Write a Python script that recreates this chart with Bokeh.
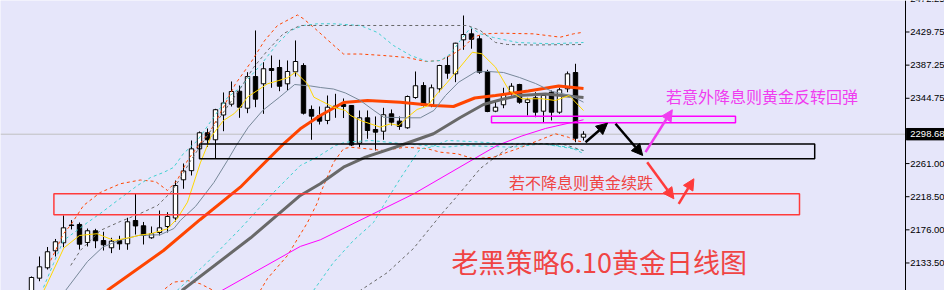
from bokeh.plotting import figure
from bokeh.models import Range1d, Span, Arrow, NormalHead
from bokeh.core.properties import value
from bokeh.embed import file_html
from bokeh.resources import INLINE

# ---- candles (daily gold) ----
opens = [2088.0, 2114.0, 2127.3, 2149.1, 2159.4, 2182.2, 2182.9, 2159.8, 2174.8, 2162.3,
         2153.0, 2162.3, 2158.1, 2188.0, 2181.2, 2165.8, 2172.6, 2180.3, 2191.2, 2240.2,
         2251.9, 2279.9, 2300.5, 2291.5, 2323.3, 2337.2, 2353.8, 2332.0, 2372.6, 2363.3,
         2382.9, 2384.2, 2363.3, 2378.7, 2386.8, 2330.4, 2322.3, 2316.3, 2332.9, 2336.8,
         2335.5, 2287.1, 2319.7, 2304.7, 2302.5, 2324.8, 2315.4, 2306.9, 2345.7, 2361.1,
         2335.9, 2356.9, 2386.8, 2376.1, 2419.7, 2427.4, 2421.0, 2379.1, 2328.2, 2336.4,
         2351.3, 2362.4, 2339.3, 2345.3, 2328.2, 2352.5, 2326.9, 2356.9, 2377.8, 2294.8]
highs = [2116.2, 2141.8, 2154.0, 2164.3, 2194.4, 2188.6, 2185.4, 2177.7, 2177.3, 2173.5,
         2165.8, 2168.4, 2191.5, 2222.6, 2186.1, 2180.3, 2200.8, 2198.6, 2239.3, 2261.1,
         2290.6, 2302.2, 2306.0, 2331.2, 2352.2, 2366.3, 2361.1, 2378.2, 2431.7, 2391.0,
         2399.6, 2394.1, 2393.2, 2418.9, 2389.7, 2335.5, 2334.2, 2348.3, 2350.5, 2344.5,
         2336.1, 2329.1, 2329.1, 2321.4, 2332.5, 2330.4, 2321.4, 2348.3, 2379.1, 2365.4,
         2362.4, 2387.7, 2398.3, 2415.9, 2450.9, 2434.2, 2425.3, 2381.3, 2341.9, 2358.2,
         2364.1, 2363.3, 2345.3, 2352.5, 2351.3, 2354.7, 2358.2, 2379.1, 2389.0, 2302.5]
lows = [2080.0, 2110.1, 2125.1, 2141.8, 2153.7, 2176.5, 2150.8, 2154.7, 2152.5, 2149.5,
        2146.1, 2150.4, 2150.4, 2170.0, 2157.2, 2164.5, 2168.8, 2172.6, 2186.7, 2228.7,
        2245.7, 2276.9, 2282.3, 2268.0, 2302.5, 2334.2, 2319.7, 2325.6, 2333.3, 2324.8,
        2358.2, 2353.8, 2354.7, 2372.6, 2323.9, 2291.5, 2311.1, 2311.5, 2319.7, 2319.4,
        2283.5, 2282.0, 2292.8, 2277.8, 2291.5, 2309.8, 2304.3, 2305.6, 2344.1, 2334.2,
        2333.3, 2352.5, 2369.7, 2365.4, 2406.9, 2408.3, 2376.1, 2326.9, 2326.9, 2332.0,
        2348.3, 2337.7, 2322.7, 2320.5, 2314.1, 2316.3, 2324.8, 2352.5, 2288.4, 2290.6]
closes = [2114.9, 2128.6, 2147.9, 2160.7, 2178.6, 2181.6, 2157.6, 2174.8, 2162.0, 2156.8,
          2161.5, 2158.1, 2186.3, 2181.0, 2168.8, 2170.9, 2178.6, 2193.1, 2232.9, 2251.5,
          2279.9, 2300.5, 2291.5, 2330.1, 2338.7, 2353.4, 2333.3, 2372.6, 2343.6, 2382.6,
          2380.4, 2360.2, 2379.1, 2391.9, 2325.6, 2321.8, 2315.4, 2333.3, 2334.8, 2334.2,
          2284.8, 2319.7, 2303.4, 2301.3, 2323.6, 2314.1, 2308.6, 2347.0, 2360.8, 2335.5,
          2358.2, 2386.8, 2376.9, 2415.4, 2426.5, 2420.4, 2378.2, 2327.8, 2333.3, 2349.6,
          2360.2, 2339.7, 2342.8, 2326.9, 2348.3, 2326.9, 2355.6, 2376.1, 2293.5, 2298.68]
bar_index = list(range(len(opens)))
last_price = 2298.68

# ---- moving averages (bar index, price) ----
ma5_x = [1.54, 1.75, 4.04, 6.0, 8.2, 10.3, 12.4, 13.6, 14.9, 17.0, 18.2, 19.5, 21.1, 22.4, 24.0,
         25.3, 26.1, 27.0, 29.5, 30.9, 32.0, 33.0, 34.5, 35.3, 36.1, 37.75, 39.25, 39.9, 41.1,
         43.6, 44.9, 45.9, 47.0, 48.2, 49.5, 50.7, 52.0, 53.4, 55.1, 56.3, 58.0, 59.7, 61.3,
         63.8, 65.5, 67.2, 69.0]
ma5_y = [2098.2, 2102.5, 2152.7, 2168.8, 2171.0, 2162.4, 2166.2, 2169.4, 2171.0, 2177.4, 2190.2,
         2211.5, 2261.8, 2294.8, 2316.3, 2324.8, 2333.3, 2346.4, 2363.3, 2367.5, 2371.0, 2378.2,
         2363.3, 2346.1, 2341.9, 2333.3, 2329.1, 2322.6, 2316.3, 2307.7, 2312.0, 2309.8, 2320.5,
         2330.4, 2334.8, 2350.5, 2365.4, 2382.6, 2403.8, 2401.8, 2384.6, 2354.7, 2344.1, 2344.1,
         2341.9, 2348.3, 2329.0]
ma10_x = [4.25, 7.0, 8.9, 11.1, 13.4, 16.1, 17.8, 18.6, 20.5, 22.8, 24.5, 25.6, 27.1, 28.9, 31.0,
          32.9, 34.9, 36.1, 37.75, 39.25, 41.1, 42.8, 44.0, 47.0, 48.6, 50.3, 51.75, 53.4, 55.5,
          57.1, 59.0, 61.0, 63.0, 65.1, 67.4, 69.0]
ma10_y = [2098.2, 2135.4, 2153.8, 2163.0, 2168.8, 2169.7, 2177.7, 2188.0, 2206.0, 2236.7, 2265.0,
          2284.2, 2307.7, 2329.1, 2346.1, 2362.4, 2360.5, 2358.6, 2356.6, 2351.5, 2341.9, 2329.1,
          2320.5, 2319.7, 2319.7, 2329.1, 2348.3, 2365.4, 2378.5, 2379.1, 2377.8, 2371.4, 2363.7,
          2353.4, 2348.3, 2339.7]
ma20_x = [9.46, 16.5, 21.1, 26.1, 31.3, 33.6, 36.1, 39.0, 42.0, 46.1, 50.25, 52.75, 55.4, 58.0,
          62.1, 65.9, 69.0]
ma20_y = [2098.2, 2149.5, 2189.3, 2230.7, 2284.2, 2305.6, 2322.6, 2339.3, 2341.9, 2339.7, 2335.5,
          2334.2, 2345.1, 2348.3, 2354.1, 2360.5, 2357.3]
ma60_x = [18.8, 27.4, 33.6, 36.1, 39.0, 41.75, 46.1, 50.25, 53.6, 56.5, 58.75, 60.9, 64.25, 69.0]
ma60_y = [2098.2, 2165.8, 2220.1, 2235.1, 2256.4, 2269.2, 2284.2, 2299.2, 2320.1, 2336.8, 2343.2,
          2348.3, 2350.2, 2345.7]
ma120_x = [23.8, 33.6, 36.1, 47.75, 58.2, 61.3, 64.25, 69.0]
ma120_y = [2098.2, 2154.7, 2163.2, 2222.0, 2284.2, 2296.4, 2306.0, 2317.2]

# ---- envelopes / bands (bar index, price) ----
band_red_up_x = [2.4, 4.0, 4.9, 6.5, 8.6, 11.1, 13.6, 15.5, 17.0, 18.2, 19.5, 20.7, 22.4, 24.0,
                 25.5, 27.5, 29.1, 30.75, 33.25, 34.0, 35.5, 37.1, 39.0, 41.1, 44.0, 47.0, 49.25,
                 51.1, 52.75, 54.0, 55.25, 56.5, 58.6, 62.75, 66.1, 67.75, 69.0]
band_red_up_y = [2136.7, 2171.0, 2182.2, 2207.2, 2223.9, 2235.1, 2239.9, 2238.0, 2226.5, 2239.3,
                 2264.9, 2282.0, 2303.4, 2333.3, 2363.3, 2391.9, 2418.2, 2438.1, 2451.6, 2446.7,
                 2433.6, 2418.8, 2401.5, 2401.5, 2399.6, 2397.0, 2391.9, 2393.2, 2401.8, 2410.3,
                 2423.1, 2427.4, 2428.2, 2427.4, 2423.1, 2427.4, 2429.5]
band_red_lo_x = [16.1, 17.75, 19.5, 21.1, 22.75, 25.75, 28.6, 29.5, 32.0, 34.5, 35.75, 36.1, 37.75,
                 39.0, 39.9, 44.0, 46.75, 49.5, 51.1, 53.25, 55.25, 57.75, 59.5, 60.75, 63.9,
                 65.5, 67.1, 68.0, 69.0]
band_red_lo_y = [2095.7, 2108.9, 2111.0, 2106.8, 2098.2, 2079.0, 2098.2, 2113.6, 2143.1, 2185.4,
                 2211.1, 2222.6, 2262.4, 2280.0, 2282.0, 2277.8, 2282.0, 2280.0, 2275.6, 2273.5,
                 2267.1, 2269.2, 2275.6, 2280.0, 2292.8, 2299.2, 2294.8, 2290.6, 2288.4]
band_cyan_up_x = [1.5, 2.75, 4.0, 7.0, 8.6, 10.75, 13.25, 14.9, 16.5, 17.75, 19.0, 20.75, 22.75,
                  24.5, 26.1, 28.6, 30.75, 32.4, 34.0, 35.75, 37.75, 41.1, 43.25, 45.25, 47.4,
                  49.5, 51.1, 52.4, 53.6, 54.9, 56.1, 57.75, 60.75, 64.9, 69.0]
band_cyan_up_y = [2102.1, 2132.9, 2162.3, 2185.4, 2197.0, 2213.7, 2232.9, 2243.2, 2249.6, 2256.0,
                  2273.9, 2290.6, 2320.1, 2345.7, 2358.6, 2386.8, 2415.0, 2431.7, 2438.1, 2440.3,
                  2440.3, 2438.1, 2429.1, 2412.4, 2399.6, 2391.9, 2393.2, 2401.8, 2418.9, 2435.5,
                  2427.4, 2422.7, 2416.3, 2414.6, 2416.3]
band_cyan_lo_x = [18.2, 22.0, 26.1, 30.3, 33.6, 35.7, 38.0, 39.25, 42.4, 46.1, 51.75, 53.9, 60.1,
                  63.9, 65.5, 67.4, 69.0]
band_cyan_lo_y = [2098.2, 2134.5, 2177.4, 2224.3, 2258.5, 2269.2, 2284.2, 2288.4, 2290.6, 2286.8,
                  2282.0, 2284.2, 2282.0, 2286.4, 2284.2, 2281.6, 2273.9]
band_cyan_lo2_x = [35.25, 37.75, 40.25, 42.75, 44.0, 46.1, 47.75, 48.6, 49.9, 52.0, 54.9, 58.6,
                   63.6, 69.0]
band_cyan_lo2_y = [2098.2, 2134.2, 2162.4, 2185.4, 2207.2, 2241.9, 2267.5, 2279.9, 2282.0, 2290.6,
                   2289.3, 2286.8, 2286.8, 2277.8]
band_gray_up_x = [4.9, 6.1, 8.6, 11.1, 13.6, 15.75, 17.4, 18.6, 19.9, 23.0, 26.1, 27.75, 29.5,
                  31.5, 33.6, 37.75, 44.0, 50.25, 54.5, 56.1, 58.0, 59.5, 62.75, 69.0]
band_gray_up_y = [2130.3, 2149.5, 2175.2, 2186.7, 2197.0, 2207.2, 2223.9, 2241.9, 2264.9, 2312.4,
                  2357.3, 2384.2, 2406.0, 2427.8, 2438.1, 2438.1, 2438.1, 2438.1, 2438.1, 2431.7,
                  2416.3, 2413.7, 2413.1, 2413.7]
band_gray_lo_x = [38.6, 41.1, 44.5, 47.75, 51.1, 53.6, 56.1, 58.25, 59.5, 61.1, 62.75, 66.1, 67.0,
                  68.25, 69.0]
band_gray_lo_y = [2079.0, 2098.2, 2121.3, 2152.1, 2194.4, 2223.9, 2254.7, 2271.4, 2280.3, 2286.8,
                  2286.8, 2286.4, 2284.2, 2280.0, 2277.8]

# ---- price scale ticks ----
tick_values = [2133.50, 2176.00, 2218.50, 2261.00, 2344.75, 2387.25, 2429.75, 2472.25]
tick_labels = [f"{t:.2f}" for t in tick_values]

# ---- drawn zones (bar index range, price range) ----
zone_black = (21.0, 97.9, 2267.1, 2286.1)
zone_magenta = (57.5, 88.0, 2313.3, 2321.8)
zone_red = (2.8, 96.0, 2195.3, 2222.2)

# ---- arrows (x0, y0, x1, y1) in bar index / price ----
arrows_black = [(69.25, 2288.4, 72.0, 2312.8), (73.0, 2312.0, 76.4, 2271.4)]
arrows_magenta = [(76.75, 2275.6, 80.1, 2330.0)]
arrows_red = [(76.96, 2262.8, 80.3, 2215.8), (80.9, 2209.4, 82.8, 2241.5)]

# ---- texts ----
note_up = "若意外降息则黄金反转回弹"
note_down = "若不降息则黄金续跌"
title_text = "老黑策略6.10黄金日线图"

# ---- layout constants (bar units) ----
X_START, X_END = -3.875, 114.125     # 8 px per bar over the 944 px window
SCALE_X = 109.25                      # bar position of the price-scale line
Y_START, Y_END = 2098.2, 2470.15

BG = "#E6E6FA"
p = figure(width=944, height=290, output_backend="svg", toolbar_location=None,
           x_range=Range1d(X_START, X_END), y_range=Range1d(Y_START, Y_END),
           x_axis_location=None, y_axis_location=None,
           background_fill_color=BG, border_fill_color=BG, min_border=0)
p.grid.visible = False
p.outline_line_color = None

# current price line
p.segment(x0=[X_START], x1=[SCALE_X], y0=[last_price], y1=[last_price],
          line_color="#C0C0C0", line_width=1)

# candles
up = [c >= o for o, c in zip(opens, closes)]
tops = [max(o, c) for o, c in zip(opens, closes)]
bots = [min(o, c) for o, c in zip(opens, closes)]
fills = ["white" if u else "black" for u in up]
p.segment(x0=bar_index, y0=lows, x1=bar_index, y1=highs, line_color="black", line_width=1)
p.vbar(x=bar_index, width=0.55, top=tops, bottom=bots, fill_color=fills, line_color="black",
       line_width=1)

# bands
p.line(band_red_up_x, band_red_up_y, line_color="#FF4500", line_width=1, line_dash="3 3")
p.line(band_red_lo_x, band_red_lo_y, line_color="#FF4500", line_width=1, line_dash="3 3")
p.line(band_cyan_up_x, band_cyan_up_y, line_color="#40D0D0", line_width=1, line_dash="3 3")
p.line(band_cyan_lo_x, band_cyan_lo_y, line_color="#40D0D0", line_width=1, line_dash="3 3")
p.line(band_cyan_lo2_x, band_cyan_lo2_y, line_color="#40D0D0", line_width=1, line_dash="3 3")
p.line(band_gray_up_x, band_gray_up_y, line_color="#696969", line_width=1, line_dash="3 3")
p.line(band_gray_lo_x, band_gray_lo_y, line_color="#696969", line_width=1, line_dash="3 3")

# moving averages
p.line(ma120_x, ma120_y, line_color="#FF00FF", line_width=1)
p.line(ma60_x, ma60_y, line_color="#696969", line_width=3)
p.line(ma20_x, ma20_y, line_color="#FF4500", line_width=3)
p.line(ma10_x, ma10_y, line_color="#778899", line_width=1)
p.line(ma5_x, ma5_y, line_color="#FFD700", line_width=1)

# zones
for (l, r, b, t), col in [(zone_black, "black"), (zone_magenta, "#FF00FF"), (zone_red, "#FF3B3B")]:
    p.quad(left=[l], right=[r], bottom=[b], top=[t], fill_color=None, line_color=col,
           line_width=1.5)

# arrows
for group, col in [(arrows_black, "black"), (arrows_magenta, "#F03CF0"), (arrows_red, "#FF3B3B")]:
    for (x0, y0, x1, y1) in group:
        p.add_layout(Arrow(x_start=x0, y_start=y0, x_end=x1, y_end=y1, line_color=col,
                           line_width=2.5,
                           end=NormalHead(size=11, fill_color=col, line_color=col)))

# texts
cjk = value("Noto Sans CJK SC")
p.text(x=[79.3], y=[2347.7], text=[note_up], text_font=cjk, text_font_size="16px",
       text_color="#F03CF0", text_baseline="middle", text_align="left")
p.text(x=[59.7], y=[2238.0], text=[note_down], text_font=cjk, text_font_size="16px",
       text_color="#F04444", text_baseline="middle", text_align="left")
p.text(x=[52.5], y=[2135.4], text=[title_text], text_font=cjk, text_font_size="27px",
       text_color="#F04444", text_baseline="middle", text_align="left")

# price scale on the right (MT4 style)
p.add_layout(Span(location=SCALE_X, dimension="height", line_color="black", line_width=1))
p.segment(x0=[SCALE_X] * len(tick_values), x1=[SCALE_X + 0.5] * len(tick_values),
          y0=tick_values, y1=tick_values, line_color="black", line_width=1)
p.text(x=[SCALE_X + 0.6] * len(tick_values), y=tick_values, text=tick_labels,
       text_font=value("Liberation Sans"), text_font_size="9.5px", text_color="black",
       text_baseline="middle", text_align="left")
p.quad(left=[SCALE_X + 0.1], right=[X_END], bottom=[last_price - 7.3], top=[last_price + 7.3],
       fill_color="black", line_color="black")
p.text(x=[SCALE_X + 0.6], y=[last_price], text=[f"{last_price:.2f}"],
       text_font=value("Liberation Sans"), text_font_size="9.5px", text_color="white",
       text_baseline="middle", text_align="left")

open("out.html", "w").write(file_html(p, INLINE))
